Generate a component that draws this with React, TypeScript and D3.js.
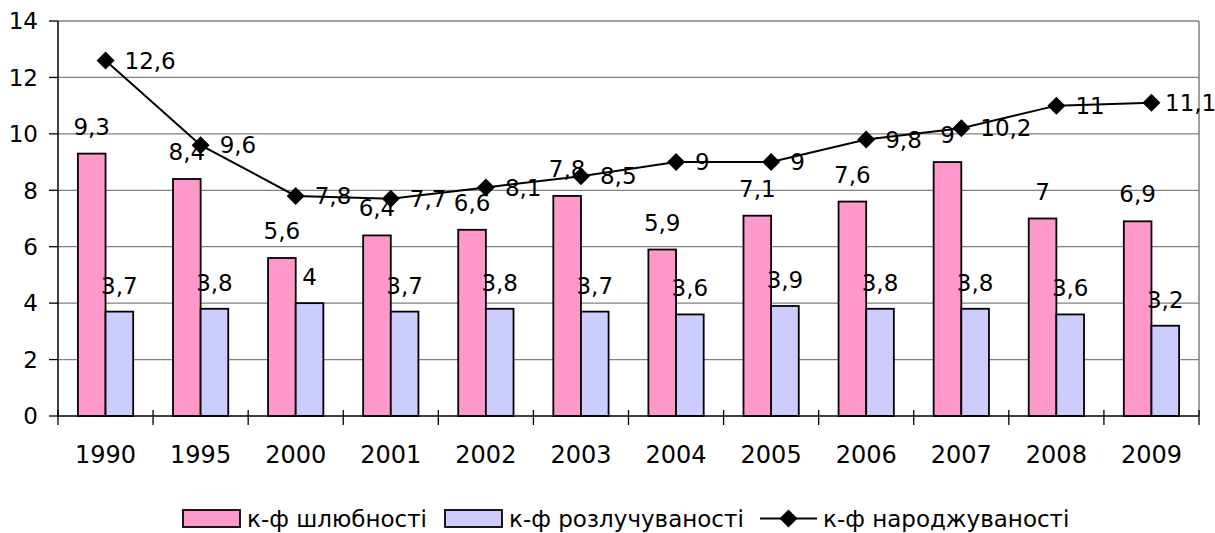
import React from 'react';
import * as d3 from 'd3';

const years = ['1990', '1995', '2000', '2001', '2002', '2003', '2004', '2005', '2006', '2007', '2008', '2009'];
const marriage = [9.3, 8.4, 5.6, 6.4, 6.6, 7.8, 5.9, 7.1, 7.6, 9, 7, 6.9];
const divorce = [3.7, 3.8, 4, 3.7, 3.8, 3.7, 3.6, 3.9, 3.8, 3.8, 3.6, 3.2];
const birth = [12.6, 9.6, 7.8, 7.7, 8.1, 8.5, 9, 9, 9.8, 10.2, 11, 11.1];
const yTicks = [0, 2, 4, 6, 8, 10, 12, 14];
const seriesNames = ['к-ф шлюбності', 'к-ф розлучуваності', 'к-ф народжуваності'];

const W = 1215;
const H = 533;
const plot = { left: 58, right: 1199, top: 21, bottom: 416 };
const FONT = '"DejaVu Sans", sans-serif';
const PINK = '#FF99CC';
const BLUE = '#CCCCFF';

const fmt = (v: number) => String(v).replace('.', ',');
const diamond = (r: number) => `M0,${-r}L${r},0L0,${r}L${-r},0Z`;

const App: React.FC = () => {
  const x0 = d3.scaleBand<string>().domain(years).range([plot.left, plot.right]).padding(0);
  const x1 = d3.scaleBand<string>().domain(['m', 'd']).range([0, x0.bandwidth()]).paddingInner(0).paddingOuter(0.72);
  const y = d3.scaleLinear().domain([0, 14]).range([plot.bottom, plot.top]);

  const cx = (i: number) => (x0(years[i]) || 0) + x0.bandwidth() / 2;
  const line = d3.line<number>().x((_, i) => cx(i)).y(d => y(d));

  return (
    <svg width={W} height={H} style={{ position: 'absolute', left: 0, top: 0, background: '#fff' }} fontFamily={FONT}>
      {/* grid */}
      {yTicks.filter(t => t > 0).map(t => (
        <line key={t} x1={plot.left} x2={plot.right} y1={y(t)} y2={y(t)} stroke="#808080" strokeWidth={1.3} />
      ))}
      <line x1={plot.right} x2={plot.right} y1={plot.top} y2={plot.bottom} stroke="#808080" strokeWidth={1.5} />

      {/* y axis */}
      <line x1={plot.left} x2={plot.left} y1={plot.top} y2={plot.bottom} stroke="#000" strokeWidth={1.5} />
      {yTicks.map(t => (
        <g key={t}>
          <line x1={plot.left - 9} x2={plot.left} y1={y(t)} y2={y(t)} stroke="#000" strokeWidth={1.3} />
          <text x={38} y={y(t)} dy="0.36em" textAnchor="end" fontSize={23}>{t}</text>
        </g>
      ))}

      {/* bars */}
      {years.map((yr, i) => (
        <g key={yr} transform={`translate(${x0(yr)},0)`}>
          <rect x={x1('m')} y={y(marriage[i])} width={x1.bandwidth()} height={y(0) - y(marriage[i])}
            fill={PINK} stroke="#000" strokeWidth={1.8} />
          <rect x={x1('d')} y={y(divorce[i])} width={x1.bandwidth()} height={y(0) - y(divorce[i])}
            fill={BLUE} stroke="#000" strokeWidth={1.8} />
        </g>
      ))}

      {/* x axis */}
      <line x1={plot.left} x2={plot.right} y1={plot.bottom} y2={plot.bottom} stroke="#000" strokeWidth={1.5} />
      {[...years.map(yr => x0(yr) || 0), plot.right].map((xv, i) => (
        <line key={i} x1={xv} x2={xv} y1={plot.bottom - 6} y2={plot.bottom + 9} stroke="#000" strokeWidth={1.3} />
      ))}
      {years.map((yr, i) => (
        <text key={yr} x={cx(i)} y={463} textAnchor="middle" fontSize={24}>{yr}</text>
      ))}

      {/* bar labels */}
      {years.map((yr, i) => (
        <g key={yr} transform={`translate(${x0(yr)},0)`}>
          <text x={(x1('m') || 0) + x1.bandwidth() / 2} y={y(marriage[i]) - 19} textAnchor="middle" fontSize={23}>{fmt(marriage[i])}</text>
          <text x={(x1('d') || 0) + x1.bandwidth() / 2} y={y(divorce[i]) - 18} textAnchor="middle" fontSize={23}>{fmt(divorce[i])}</text>
        </g>
      ))}

      {/* birth rate line */}
      <path d={line(birth) || ''} fill="none" stroke="#000" strokeWidth={2} />
      {birth.map((v, i) => (
        <g key={i}>
          <path d={diamond(9)} transform={`translate(${cx(i)},${y(v)})`} fill="#000" />
          <text x={Math.min(cx(i) + 19, W - 50)} y={y(v)} dy="0.36em" fontSize={23}>{fmt(v)}</text>
        </g>
      ))}

      {/* legend */}
      <g fontSize={23}>
        <rect x={183} y={510} width={57} height={17} fill={PINK} stroke="#000" strokeWidth={1.8} />
        <text x={247} y={527}>{seriesNames[0]}</text>
        <rect x={445} y={510} width={57} height={17} fill={BLUE} stroke="#000" strokeWidth={1.8} />
        <text x={509} y={527}>{seriesNames[1]}</text>
        <line x1={760} x2={817} y1={518.5} y2={518.5} stroke="#000" strokeWidth={2} />
        <path d={diamond(9)} transform="translate(788.5,518.5)" fill="#000" />
        <text x={823} y={527}>{seriesNames[2]}</text>
      </g>
    </svg>
  );
};

export default App;
